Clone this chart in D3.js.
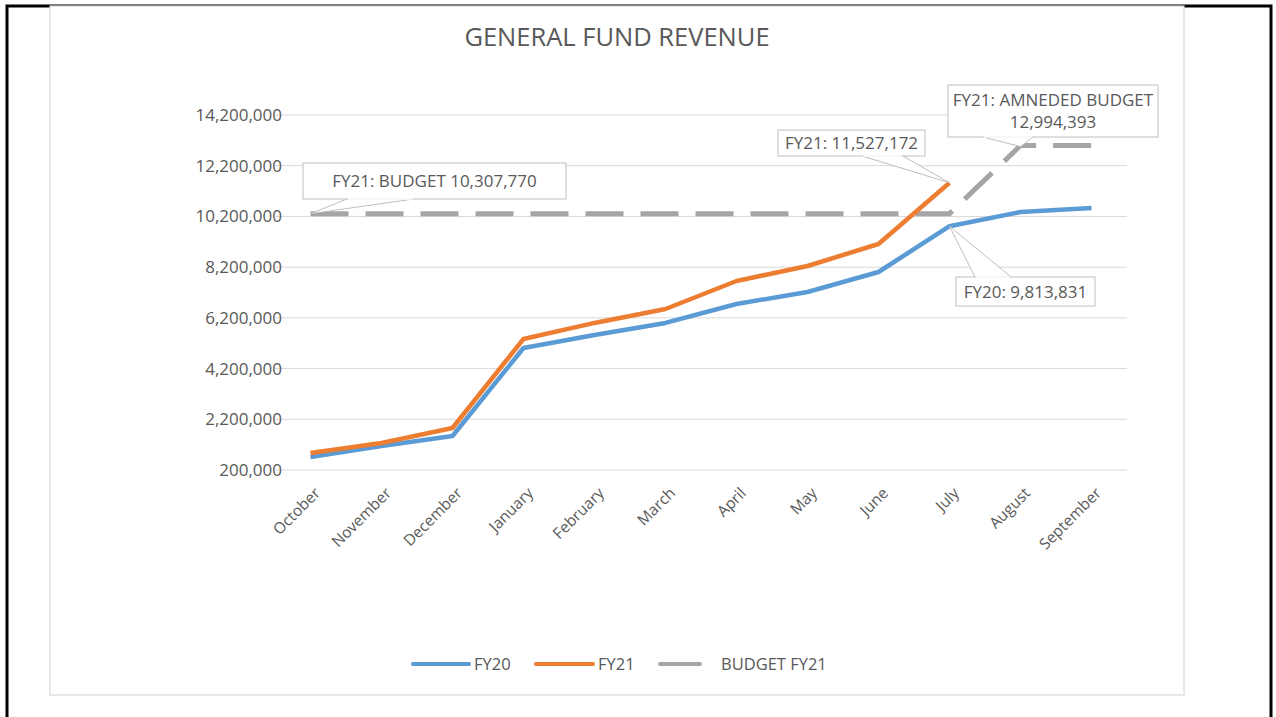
<!DOCTYPE html>
<html>
<head>
<meta charset="utf-8">
<script src="https://cdn.jsdelivr.net/npm/d3@7"></script>
<style>
  body { margin: 0; background: #fff; }
  svg text { font-family: "Open Sans", "Liberation Sans", sans-serif; fill: #595959; }
</style>
</head>
<body>
<script>
const months = ["October","November","December","January","February","March","April","May","June","July","August","September"]
const fy20 = [712000,1146000,1541000,5012000,5524000,6000000,6747000,7220000,8009000,9813831,10375000,10533000]
const fy21 = [870000,1265000,1856000,5367000,6000000,6550000,7654000,8246000,9113000,11527172]
const budget = [10307770,10307770,10307770,10307770,10307770,10307770,10307770,10307770,10307770,10307770,12994393,12994393]
const yTicks = [200000,2200000,4200000,6200000,8200000,10200000,12200000,14200000]

const w = 1276, h = 717

const svg = d3.select("body").append("svg")
  .attr("width", w).attr("height", h)

// outer frame + chart box
svg.append("rect").attr("x", 7).attr("y", 6).attr("width", 1264).attr("height", 720)
  .attr("fill", "none").attr("stroke", "#000").attr("stroke-width", 3)
svg.append("rect").attr("x", 50).attr("y", 6).attr("width", 1134).attr("height", 689)
  .attr("fill", "#fff").attr("stroke", "#d9d9d9").attr("stroke-width", 1.2)

const x = d3.scalePoint().domain(months).range([275, 1127]).padding(0.5)
const y = d3.scaleLinear().domain([200000, 14200000]).range([470, 115])

svg.append("text").attr("x", 617).attr("y", 46).attr("text-anchor", "middle")
  .style("font-size", "25.5px").text("GENERAL FUND REVENUE")

// grid
svg.append("g").selectAll("line").data(yTicks).enter().append("line")
  .attr("x1", 275).attr("x2", 1127)
  .attr("y1", d => y(d)).attr("y2", d => y(d))
  .attr("stroke", "#d9d9d9").attr("stroke-width", 1)

const yAxis = d3.axisLeft(y).tickValues(yTicks).tickFormat(d3.format(",")).tickSize(0).tickPadding(0)
const gy = svg.append("g").attr("transform", "translate(282,0)").call(yAxis)
gy.select(".domain").remove()
gy.selectAll("text").style("font-size", "17px").attr("fill", "#595959")

const xAxis = d3.axisBottom(x).tickSize(0)
const gx = svg.append("g").attr("transform", "translate(0,470)").call(xAxis)
gx.select(".domain").remove()
gx.selectAll("text").style("font-size", "15.5px").attr("fill", "#595959")
  .attr("text-anchor", "end").attr("dy", 0)
  .attr("transform", "translate(8,22) rotate(-45)")

const line = d3.line().x((d, i) => x(months[i])).y(d => y(d))

svg.append("path").datum(budget).attr("d", line).attr("fill", "none")
  .attr("stroke", "#a5a5a5").attr("stroke-width", 5).attr("stroke-dasharray", "38,17")
svg.append("path").datum(fy20).attr("d", line).attr("fill", "none")
  .attr("stroke", "#5b9bd5").attr("stroke-width", 4.5).attr("stroke-linejoin", "round")
svg.append("path").datum(fy21).attr("d", line).attr("fill", "none")
  .attr("stroke", "#ed7d31").attr("stroke-width", 4.5).attr("stroke-linejoin", "round")

// callouts
function callout(bx, by, bw, bh, lines, px, py, l1, l2) {
  const g = svg.append("g")
  g.append("path")
    .attr("d", `M${l1},${by + bh} L${px},${py} L${l2},${by + bh}`)
    .attr("fill", "#fff").attr("stroke", "#bfbfbf").attr("stroke-width", 1)
  g.append("rect").attr("x", bx).attr("y", by).attr("width", bw).attr("height", bh)
    .attr("fill", "#fff").attr("stroke", "#bfbfbf").attr("stroke-width", 1)
  g.append("line").attr("x1", l1 + 1).attr("x2", l2 - 1).attr("y1", by + bh).attr("y2", by + bh)
    .attr("stroke", "#fff").attr("stroke-width", 1.5)
  lines.forEach((t, i) => {
    g.append("text").attr("x", bx + bw / 2).attr("y", by + bh / 2 + 6 + (i - (lines.length - 1) / 2) * 22)
      .attr("text-anchor", "middle").style("font-size", "17px").text(t)
  })
}

function calloutUp(bx, by, bw, bh, text, px, py, l1, l2) {
  const g = svg.append("g")
  g.append("path")
    .attr("d", `M${l1},${by} L${px},${py} L${l2},${by}`)
    .attr("fill", "#fff").attr("stroke", "#bfbfbf").attr("stroke-width", 1)
  g.append("rect").attr("x", bx).attr("y", by).attr("width", bw).attr("height", bh)
    .attr("fill", "#fff").attr("stroke", "#bfbfbf").attr("stroke-width", 1)
  g.append("line").attr("x1", l1 + 1).attr("x2", l2 - 1).attr("y1", by).attr("y2", by)
    .attr("stroke", "#fff").attr("stroke-width", 1.5)
  g.append("text").attr("x", bx + bw / 2).attr("y", by + bh / 2 + 6)
    .attr("text-anchor", "middle").style("font-size", "17px").text(text)
}

callout(303, 163, 263, 36, ["FY21: BUDGET 10,307,770"], x("October"), y(budget[0]), 347, 414)
callout(778, 130, 147, 26, ["FY21: 11,527,172"], x("July"), y(fy21[9]), 862, 903)
callout(948, 85, 210, 52, ["FY21: AMNEDED BUDGET", "12,994,393"], x("August"), y(budget[10]) + 1, 983, 1033)
calloutUp(956, 277, 139, 29, "FY20: 9,813,831", x("July"), y(fy20[9]), 975, 1011)

// legend
const legend = [
  { name: "FY20", color: "#5b9bd5", x: 413, len: 56, tx: 474 },
  { name: "FY21", color: "#ed7d31", x: 536, len: 57, tx: 598 },
  { name: "BUDGET FY21", color: "#a5a5a5", x: 660, len: 40, tx: 721 }
]
const lg = svg.append("g")
lg.selectAll("line").data(legend).enter().append("line")
  .attr("x1", d => d.x).attr("x2", d => d.x + d.len)
  .attr("y1", 664).attr("y2", 664)
  .attr("stroke", d => d.color).attr("stroke-width", 4).attr("stroke-linecap", "round")
lg.selectAll("text").data(legend).enter().append("text")
  .attr("x", d => d.tx).attr("y", 670).style("font-size", "16.5px").text(d => d.name)
</script>
</body>
</html>
